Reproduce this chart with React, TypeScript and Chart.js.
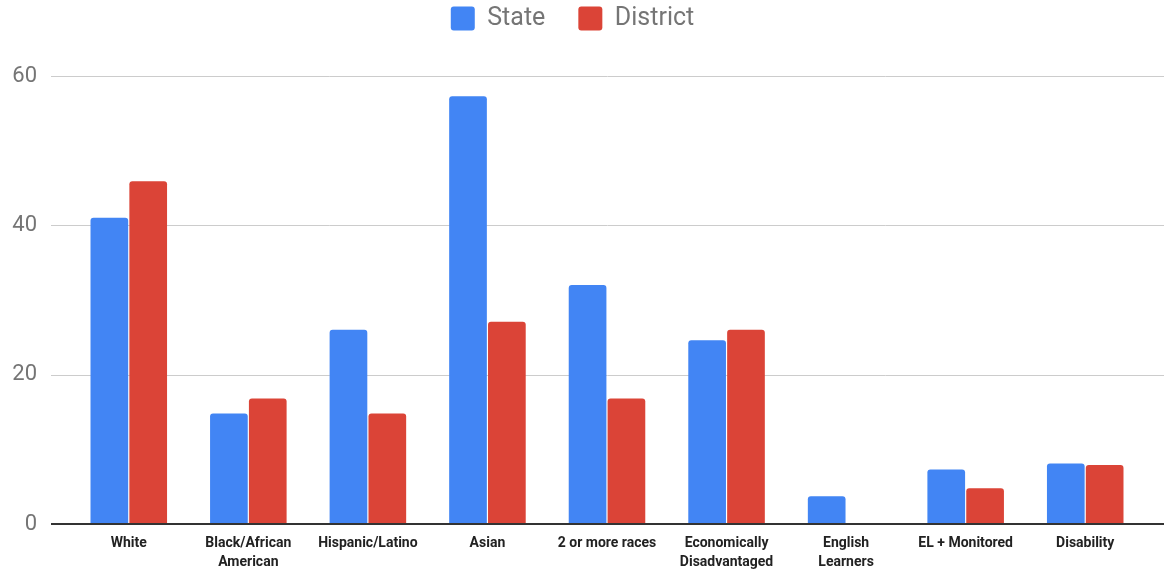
import React, { useEffect, useRef } from 'react';
import { Chart, registerables } from 'chart.js';

Chart.register(...registerables);

const categories: string[][] = [
  ['White'],
  ['Black/African', 'American'],
  ['Hispanic/Latino'],
  ['Asian'],
  ['2 or more races'],
  ['Economically', 'Disadvantaged'],
  ['English', 'Learners'],
  ['EL + Monitored'],
  ['Disability'],
];
const stateValues = [41, 14.8, 26, 57.3, 32, 24.6, 3.7, 7.3, 8.1];
const districtValues = [45.9, 16.8, 14.8, 27.1, 16.8, 26, 0, 4.8, 7.9];
const yTicks = [0, 20, 40, 60];

const BLUE = '#4285F4';
const RED = '#DB4437';

const gridPlugin = {
  id: 'extendedGrid',
  beforeDatasetsDraw(chart: any) {
    const { ctx } = chart;
    const y = chart.scales.y;
    ctx.save();
    ctx.strokeStyle = '#cccccc';
    ctx.lineWidth = 1;
    y.ticks.forEach((t: any) => {
      if (t.value === 0) return;
      const py = Math.round(y.getPixelForValue(t.value)) + 0.5;
      ctx.beginPath();
      ctx.moveTo(51, py);
      ctx.lineTo(chart.width, py);
      ctx.stroke();
    });
    ctx.restore();
  },
  afterDatasetsDraw(chart: any) {
    const { ctx } = chart;
    const y = chart.scales.y;
    const py = Math.round(y.getPixelForValue(0));
    ctx.save();
    ctx.strokeStyle = '#333333';
    ctx.lineWidth = 2;
    ctx.beginPath();
    ctx.moveTo(51, py);
    ctx.lineTo(chart.width, py);
    ctx.stroke();
    ctx.restore();
  },
};

export default function App() {
  const ref = useRef<HTMLCanvasElement>(null);
  useEffect(() => {
    if (!ref.current) return;
    const chart = new Chart(ref.current, {
      type: 'bar',
      data: {
        labels: categories,
        datasets: [
          {
            label: 'State',
            data: stateValues,
            backgroundColor: BLUE,
            borderWidth: 0,
            borderRadius: { topLeft: 3, topRight: 3, bottomLeft: 0, bottomRight: 0 },
            borderSkipped: false,
            categoryPercentage: 0.65,
            barPercentage: 0.97,
          },
          {
            label: 'District',
            data: districtValues,
            backgroundColor: RED,
            borderWidth: 0,
            borderRadius: { topLeft: 3, topRight: 3, bottomLeft: 0, bottomRight: 0 },
            borderSkipped: false,
            categoryPercentage: 0.65,
            barPercentage: 0.97,
          },
        ],
      },
      options: {
        animation: false,
        responsive: true,
        maintainAspectRatio: false,
        layout: { padding: { top: -27, right: 19, left: 0, bottom: 0 } },
        plugins: {
          legend: {
            position: 'top',
            align: 'center',
            labels: {
              boxWidth: 24,
              boxHeight: 24,
              useBorderRadius: true,
              borderRadius: 3,
              padding: 33,
              color: '#757575',
              font: { family: 'Roboto', size: 25 },
            },
          },
          tooltip: { enabled: false },
        },
        scales: {
          x: {
            grid: { display: false, drawTicks: false },
            border: { display: false },
            ticks: {
              color: '#222222',
              font: { family: 'Roboto', size: 14, weight: 'bold', lineHeight: 1.35 },
              padding: 10,
              maxRotation: 0,
              autoSkip: false,
            },
            afterFit: (s: any) => {
              s.height = 47;
            },
          },
          xTop: {
            type: 'category',
            position: 'top',
            display: true,
            grid: { display: false, drawTicks: false },
            border: { display: false },
            ticks: { display: false },
            afterFit: (s: any) => {
              s.height = 35;
            },
          },
          y: {
            min: 0,
            max: 60,
            afterBuildTicks: (s: any) => {
              s.ticks = yTicks.map((v) => ({ value: v }));
            },
            grid: { display: false, drawTicks: false },
            border: { display: false },
            ticks: {
              color: '#757575',
              font: { family: 'Roboto', size: 22 },
              padding: 32,
            },
            afterFit: (s: any) => {
              s.width = 69;
            },
          },
        },
      },
      plugins: [gridPlugin],
    });
    return () => chart.destroy();
  }, []);
  return (
    <div style={{ position: 'fixed', left: 0, top: 0, width: 1164, height: 571 }}>
      <canvas ref={ref} />
    </div>
  );
}
